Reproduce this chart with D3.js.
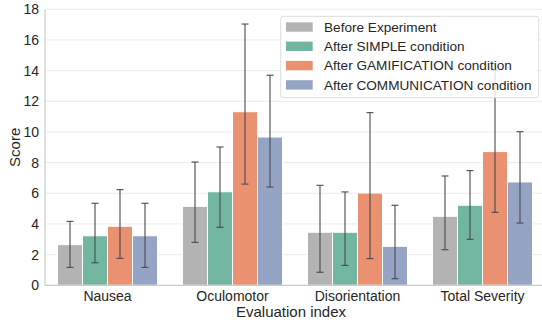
<!DOCTYPE html>
<html><head><meta charset="utf-8">
<script src="https://cdn.jsdelivr.net/npm/d3@7"></script>
<style>body{margin:0;background:#fff}svg{display:block}text{font-family:"Liberation Sans",Arial,sans-serif;fill:#262626}</style>
</head><body>
<script>
const categories = ["Nausea","Oculomotor","Disorientation","Total Severity"];
const seriesNames = ["Before Experiment","After SIMPLE condition","After GAMIFICATION condition","After COMMUNICATION condition"];
const colors = ["#b3b3b3","#72b6a1","#e99170","#95a3c4"];
const before    = [2.65, 5.15, 3.46, 4.50];
const simple    = [3.23, 6.10, 3.46, 5.22];
const gamif     = [3.85, 11.32, 6.02, 8.72];
const comm      = [3.23, 9.67, 2.54, 6.74];
const beforeLo  = [1.17, 2.80, 0.85, 2.32];
const beforeHi  = [4.17, 8.04, 6.52, 7.13];
const simpleLo  = [1.47, 3.78, 1.30, 3.00];
const simpleHi  = [5.35, 9.02, 6.09, 7.48];
const gamifLo   = [1.76, 6.60, 1.74, 4.76];
const gamifHi   = [6.24, 17.04, 11.26, 14.0];
const commLo    = [1.17, 6.41, 0.43, 4.06];
const commHi    = [5.35, 13.70, 5.22, 10.02];
const yTicks = [0,2,4,6,8,10,12,14,16,18];

const values = [before, simple, gamif, comm];
const los = [beforeLo, simpleLo, gamifLo, commLo];
const his = [beforeHi, simpleHi, gamifHi, commHi];

const W = 542, H = 324;
const m = {left:45, top:9.3, right:545, bottom:285.3};
const svg = d3.select("body").append("svg").attr("width",W).attr("height",H);

const x = d3.scaleBand().domain(categories).range([m.left, m.right]).paddingInner(0.2).paddingOuter(0.1);
const xs = d3.scaleBand().domain(d3.range(4)).range([0, x.bandwidth()]);
const y = d3.scaleLinear().domain([0,18]).range([m.bottom, m.top]);

// grid
svg.append("g").selectAll("line").data(yTicks).join("line")
  .attr("x1", m.left).attr("x2", m.right)
  .attr("y1", d=>y(d)).attr("y2", d=>y(d))
  .attr("stroke","#ebebeb").attr("stroke-width",1);

// bars
values.forEach((vals, si) => {
  svg.append("g").selectAll("rect").data(categories).join("rect")
    .attr("x", c => x(c) + xs(si))
    .attr("width", xs.bandwidth())
    .attr("y", (c,i) => y(vals[i]))
    .attr("height", (c,i) => y(0) - y(vals[i]))
    .attr("fill", colors[si])
    .attr("stroke","#fff").attr("stroke-width",1);
});

// error bars
values.forEach((vals, si) => {
  const g = svg.append("g").attr("stroke","#4a4a4a").attr("stroke-width",1.1);
  categories.forEach((c,i) => {
    const cx = x(c) + xs(si) + xs.bandwidth()/2;
    g.append("line").attr("x1",cx).attr("x2",cx).attr("y1",y(los[si][i])).attr("y2",y(his[si][i]));
    g.append("line").attr("x1",cx-3.5).attr("x2",cx+3.5).attr("y1",y(los[si][i])).attr("y2",y(los[si][i]));
    g.append("line").attr("x1",cx-3.5).attr("x2",cx+3.5).attr("y1",y(his[si][i])).attr("y2",y(his[si][i]));
  });
});

// spines
svg.append("line").attr("x1",m.left).attr("x2",m.left).attr("y1",m.top).attr("y2",m.bottom).attr("stroke","#cccccc").attr("stroke-width",1.2);
svg.append("line").attr("x1",m.left).attr("x2",m.right).attr("y1",m.bottom).attr("y2",m.bottom).attr("stroke","#cccccc").attr("stroke-width",1.2);

// axes
const yAxis = d3.axisLeft(y).tickValues(yTicks).tickSize(0).tickPadding(6);
const gy = svg.append("g").attr("transform",`translate(${m.left},0)`).call(yAxis);
gy.select(".domain").remove();
gy.selectAll("text").attr("font-size",14).attr("fill","#262626").attr("font-family","Liberation Sans, Arial, sans-serif");

const xAxis = d3.axisBottom(x).tickSize(0).tickPadding(6);
const gx = svg.append("g").attr("transform",`translate(0,${m.bottom})`).call(xAxis);
gx.select(".domain").remove();
gx.selectAll("text").attr("font-size",14).attr("fill","#262626").attr("font-family","Liberation Sans, Arial, sans-serif");

svg.append("text").attr("x", (m.left+m.right)/2 - 4).attr("y", 317).attr("text-anchor","middle").attr("font-size",15).text("Evaluation index");
svg.append("text").attr("transform",`translate(20,${(m.top+m.bottom)/2}) rotate(-90)`).attr("text-anchor","middle").attr("font-size",15).text("Score");

// legend
const lg = svg.append("g");
lg.append("rect").attr("x",280.7).attr("y",16.3).attr("width",258).attr("height",81.4).attr("rx",2.5)
  .attr("fill","#fff").attr("fill-opacity",0.8).attr("stroke","#dddddd").attr("stroke-width",1);
seriesNames.forEach((n,i) => {
  const yy = 27 + i*19.3;
  lg.append("rect").attr("x",286).attr("y",yy-4.7).attr("width",26.7).attr("height",9.4).attr("fill",colors[i]);
  lg.append("text").attr("x",324).attr("y",yy).attr("dy","0.35em").attr("font-size",13.6).text(n);
});
</script>
</body></html>
